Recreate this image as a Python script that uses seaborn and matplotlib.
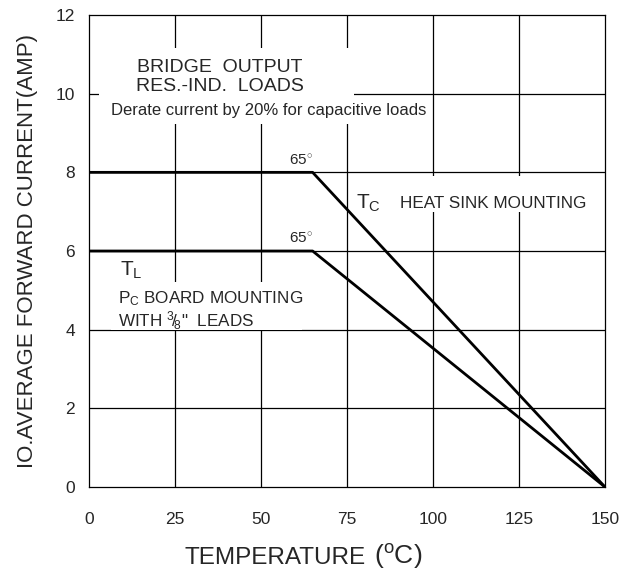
import pandas as pd
import matplotlib
matplotlib.use("Agg")
import matplotlib.pyplot as plt
from matplotlib.patches import Rectangle
import seaborn as sns

# derating curves
temp_tc = [0, 65, 150]
amp_tc = [8, 8, 0]
temp_tl = [0, 65, 150]
amp_tl = [6, 6, 0]

x_ticks = [0, 25, 50, 75, 100, 125, 150]
y_ticks = [0, 2, 4, 6, 8, 10, 12]

df = pd.concat([
    pd.DataFrame({'temp': temp_tc, 'amp': amp_tc, 'curve': 'TC'}),
    pd.DataFrame({'temp': temp_tl, 'amp': amp_tl, 'curve': 'TL'}),
])

sns.set_style("white")
plt.rcParams['font.family'] = ['Liberation Sans', 'DejaVu Sans']
plt.rcParams['mathtext.fontset'] = 'custom'
plt.rcParams['mathtext.rm'] = 'Liberation Sans'
plt.rcParams['mathtext.it'] = 'Liberation Sans'

fig = plt.figure(figsize=(6.19, 5.71), dpi=100)
ax = fig.add_axes([0.1438, 0.1471, 0.8336, 0.8266])

for v in x_ticks[1:-1]:
    ax.axvline(v, color='black', lw=0.9, zorder=1)
for v in y_ticks[1:-1]:
    ax.axhline(v, color='black', lw=0.9, zorder=1)

# white patches behind the annotations (they hide the grid)
for (x0, y0, w, h) in [(2.9, 9.23, 74.2, 1.92), (6.4, 3.98, 55.5, 1.22), (77, 6.98, 68, 0.92)]:
    ax.add_patch(Rectangle((x0, y0), w, h, facecolor='white', edgecolor='none', zorder=2))

sns.lineplot(data=df, x='temp', y='amp', units='curve', estimator=None,
             color='black', linewidth=2.0, legend=False, ax=ax, zorder=4)

ax.set_xlim(0, 150)
ax.set_ylim(0, 12)
ax.set_xticks(x_ticks)
ax.set_yticks(y_ticks)
ax.tick_params(labelsize=12.5, length=0)
ax.tick_params(axis='x', pad=18)
ax.tick_params(axis='y', pad=10)
for s in ax.spines.values():
    s.set_color('black')
    s.set_linewidth(0.9)

# x label: "TEMPERATURE" plus a larger "(°C)"
ax.set_xlabel('TEMPERATURE', fontsize=17.5, ha='left', va='baseline')
ax.xaxis.set_label_coords(0.186, -0.163)
ax.text(0.552, -0.163, r'($^\mathrm{o}$C)', transform=ax.transAxes,
        ha='left', va='baseline', fontsize=19)

ax.set_ylabel('IO.AVERAGE FORWARD CURRENT(AMP)', fontsize=16)
ax.yaxis.set_label_coords(-0.098, 0.5)

ax.text(38, 10.43, 'BRIDGE  OUTPUT\nRES.-IND.  LOADS', ha='center', va='center',
        fontsize=14, linespacing=1.12, zorder=3)
ax.text(52.3, 9.57, 'Derate current by 20% for capacitive loads', ha='center',
        va='center', fontsize=12, zorder=3)
ax.text(61.5, 8.12, '65$^{\\circ}$', ha='center', va='bottom', fontsize=11, zorder=3)
ax.text(61.5, 6.12, '65$^{\\circ}$', ha='center', va='bottom', fontsize=11, zorder=3)
ax.text(77.5, 7.22, r'T$_\mathrm{C}$', ha='left', va='center', fontsize=15, zorder=3)
ax.text(90.4, 7.22, 'HEAT SINK MOUNTING', ha='left', va='center', fontsize=12.3, zorder=3)
ax.text(9, 5.52, r'T$_\mathrm{L}$', ha='left', va='center', fontsize=15, zorder=3)
ax.text(8.3, 4.49, 'P$_\\mathrm{C}$ BOARD MOUNTING\nWITH $^3\\!/\\!_8$\"  LEADS',
        ha='left', va='center', fontsize=12.3, linespacing=1.1, zorder=3)

plt.savefig('out.png', dpi=100)
